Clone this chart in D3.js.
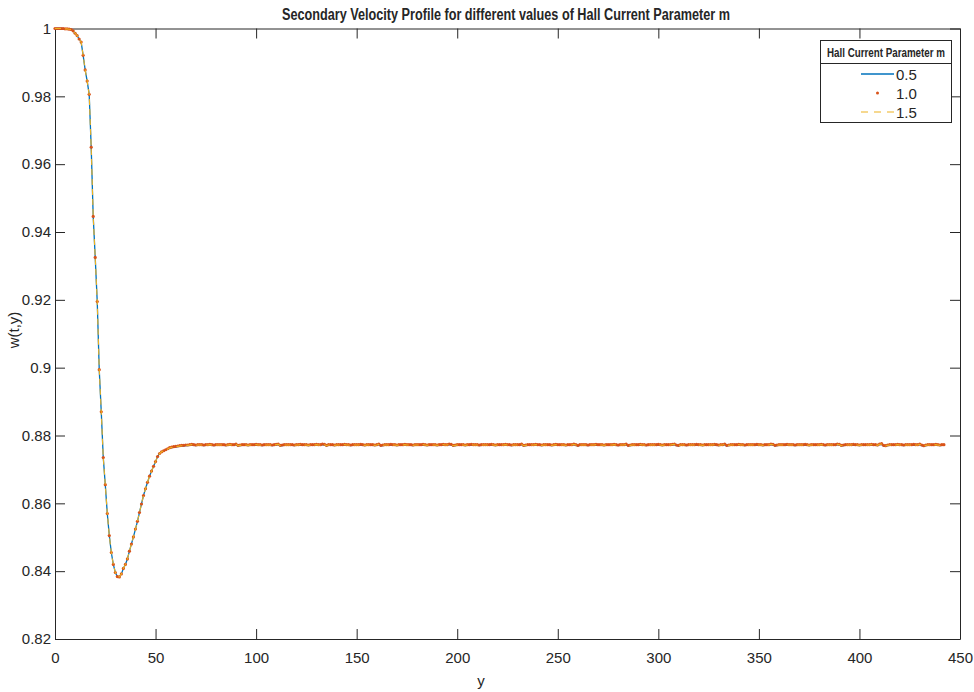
<!DOCTYPE html>
<html>
<head>
<meta charset="utf-8">
<script src="https://cdn.jsdelivr.net/npm/d3@7"></script>
<style>
html,body{margin:0;padding:0;background:#fff;}
svg text{font-family:"Liberation Sans Narrow","Arial Narrow","Liberation Sans",Arial,sans-serif;fill:#262626;}
</style>
</head>
<body>
<svg id="chart" width="974" height="692"></svg>
<script>
// ---- Data ----
const seriesNames = ["0.5", "1.0", "1.5"];
const xTicks = [0, 50, 100, 150, 200, 250, 300, 350, 400, 450];
const xTickLabels = ["0", "50", "100", "150", "200", "250", "300", "350", "400", "450"];
const yTicks = [0.82, 0.84, 0.86, 0.88, 0.9, 0.92, 0.94, 0.96, 0.98, 1];
const yTickLabels = ["0.82", "0.84", "0.86", "0.88", "0.9", "0.92", "0.94", "0.96", "0.98", "1"];

const w_m05 = [1.0000,1.0000,1.0000,1.0000,1.0000,0.9999,0.9999,0.9998,0.9997,0.9993,0.9986,0.9979,0.9969,0.9960,0.9921,0.9878,0.9845,0.9806,0.9650,0.9446,0.9325,0.9195,0.8994,0.8870,0.8735,0.8655,0.8570,0.8505,0.8455,0.8420,0.8396,0.8384,0.8383,0.8392,0.8408,0.8420,0.8436,0.8459,0.8480,0.8501,0.8524,0.8547,0.8573,0.8598,0.8623,0.8643,0.8662,0.8680,0.8695,0.8709,0.8723,0.8738,0.8747,0.8752,0.8755,0.8757,0.8760,0.8762,0.8764,0.8765,0.8766,0.8767,0.8768,0.8769,0.8769,0.8770,0.8770,0.8771,
.8772,.8771,.8770,.8771,.8771,.8771,.8770,.8771,.8771,.8772,.8771,.8770,.8771,.8771,.8771,.8771,.8771,.8770,.8771,.8772,.8771,.8771,.8773,.8769,.8770,
.8771,.8771,.8771,.8770,.8771,.8771,.8771,.8772,.8771,.8771,.8770,.8771,.8771,.8771,.8771,.8770,.8771,.8772,.8773,.8769,.8770,.8771,.8771,.8771,.8771,
.8771,.8770,.8771,.8771,.8772,.8771,.8771,.8771,.8770,.8771,.8771,.8771,.8772,.8771,.8771,.8773,.8772,.8769,.8771,.8771,.8771,.8770,.8771,.8771,.8771,
.8771,.8772,.8771,.8771,.8770,.8771,.8771,.8771,.8771,.8772,.8771,.8770,.8771,.8771,.8771,.8771,.8770,.8771,.8773,.8769,.8770,.8771,.8771,.8771,.8772,
.8771,.8771,.8770,.8771,.8771,.8771,.8772,.8771,.8771,.8771,.8770,.8771,.8771,.8771,.8771,.8772,.8771,.8770,.8771,.8771,.8771,.8771,.8770,.8771,.8771,
.8772,.8771,.8771,.8773,.8772,.8769,.8770,.8771,.8771,.8771,.8771,.8770,.8771,.8771,.8772,.8771,.8771,.8771,.8770,.8771,.8771,.8771,.8771,.8771,.8772,
.8771,.8770,.8771,.8771,.8771,.8771,.8772,.8771,.8771,.8770,.8771,.8771,.8771,.8771,.8773,.8769,.8770,.8771,.8771,.8771,.8771,.8772,.8771,.8771,.8770,
.8771,.8771,.8771,.8771,.8770,.8771,.8772,.8771,.8771,.8771,.8771,.8770,.8771,.8771,.8771,.8773,.8771,.8769,.8771,.8771,.8771,.8771,.8770,.8771,.8771,
.8771,.8772,.8771,.8771,.8771,.8770,.8771,.8771,.8771,.8771,.8772,.8771,.8770,.8771,.8771,.8771,.8773,.8769,.8770,.8771,.8771,.8771,.8771,.8772,.8771,
.8771,.8770,.8771,.8771,.8771,.8771,.8771,.8772,.8771,.8770,.8771,.8771,.8771,.8771,.8772,.8773,.8770,.8769,.8771,.8771,.8771,.8770,.8771,.8771,.8771,
.8771,.8772,.8771,.8771,.8770,.8771,.8771,.8771,.8771,.8771,.8772,.8771,.8770,.8771,.8771,.8773,.8769,.8770,.8771,.8771,.8771,.8771,.8772,.8771,.8771,
.8770,.8771,.8771,.8771,.8771,.8771,.8772,.8771,.8771,.8770,.8771,.8771,.8771,.8773,.8772,.8769,.8770,.8771,.8771,.8771,.8771,.8772,.8771,.8771,.8771,
.8770,.8771,.8771,.8771,.8771,.8772,.8771,.8770,.8771,.8771,.8771,.8771,.8771,.8772,.8771,.8770,.8771,.8771,.8771,.8771,.8771,.8773,.8772,.8769,.8770,
.8771,.8771,.8771,.8771,.8772,.8771,.8771,.8770,.8771,.8771,.8771,.8771,.8771,.8772,.8771,.8771,.8770,.8773,.8774,.8769,.8768,.8770,.8771,.8771,.8771,
.8771,.8772,.8771,.8771,.8770,.8771,.8771,.8771,.8771,.8772,.8771,.8771,.8773,.8770,.8768,.8770,.8771,.8771,.8771,.8771,.8772,.8771,.8770,.8771,.8771];

const w_m10 = [1.0000,1.0000,1.0000,1.0000,1.0000,0.9999,0.9999,0.9998,0.9997,0.9993,0.9986,0.9979,0.9969,0.9960,0.9921,0.9878,0.9845,0.9806,0.9650,0.9446,0.9325,0.9195,0.8994,0.8870,0.8735,0.8655,0.8570,0.8505,0.8455,0.8420,0.8396,0.8384,0.8383,0.8392,0.8408,0.8420,0.8436,0.8459,0.8480,0.8501,0.8524,0.8547,0.8573,0.8598,0.8623,0.8643,0.8662,0.8680,0.8695,0.8709,0.8723,0.8738,0.8747,0.8752,0.8755,0.8758,0.8761,0.8764,0.8766,0.8767,0.8768,0.8769,0.8770,0.8771,0.8771,0.8772,0.8772,0.8773,
.8774,.8773,.8772,.8773,.8773,.8773,.8772,.8773,.8773,.8774,.8773,.8772,.8773,.8773,.8773,.8773,.8773,.8772,.8773,.8774,.8773,.8773,.8775,.8771,.8772,
.8773,.8773,.8773,.8772,.8773,.8773,.8773,.8774,.8773,.8773,.8772,.8773,.8773,.8773,.8773,.8772,.8773,.8774,.8775,.8771,.8772,.8773,.8773,.8773,.8773,
.8773,.8772,.8773,.8773,.8774,.8773,.8773,.8773,.8772,.8773,.8773,.8773,.8774,.8773,.8773,.8775,.8774,.8771,.8773,.8773,.8773,.8772,.8773,.8773,.8773,
.8773,.8774,.8773,.8773,.8772,.8773,.8773,.8773,.8773,.8774,.8773,.8772,.8773,.8773,.8773,.8773,.8772,.8773,.8775,.8771,.8772,.8773,.8773,.8773,.8774,
.8773,.8773,.8772,.8773,.8773,.8773,.8774,.8773,.8773,.8773,.8772,.8773,.8773,.8773,.8773,.8774,.8773,.8772,.8773,.8773,.8773,.8773,.8772,.8773,.8773,
.8774,.8773,.8773,.8775,.8774,.8771,.8772,.8773,.8773,.8773,.8773,.8772,.8773,.8773,.8774,.8773,.8773,.8773,.8772,.8773,.8773,.8773,.8773,.8773,.8774,
.8773,.8772,.8773,.8773,.8773,.8773,.8774,.8773,.8773,.8772,.8773,.8773,.8773,.8773,.8775,.8771,.8772,.8773,.8773,.8773,.8773,.8774,.8773,.8773,.8772,
.8773,.8773,.8773,.8773,.8772,.8773,.8774,.8773,.8773,.8773,.8773,.8772,.8773,.8773,.8773,.8775,.8773,.8771,.8773,.8773,.8773,.8773,.8772,.8773,.8773,
.8773,.8774,.8773,.8773,.8773,.8772,.8773,.8773,.8773,.8773,.8774,.8773,.8772,.8773,.8773,.8773,.8775,.8771,.8772,.8773,.8773,.8773,.8773,.8774,.8773,
.8773,.8772,.8773,.8773,.8773,.8773,.8773,.8774,.8773,.8772,.8773,.8773,.8773,.8773,.8774,.8775,.8772,.8771,.8773,.8773,.8773,.8772,.8773,.8773,.8773,
.8773,.8774,.8773,.8773,.8772,.8773,.8773,.8773,.8773,.8773,.8774,.8773,.8772,.8773,.8773,.8775,.8771,.8772,.8773,.8773,.8773,.8773,.8774,.8773,.8773,
.8772,.8773,.8773,.8773,.8773,.8773,.8774,.8773,.8773,.8772,.8773,.8773,.8773,.8775,.8774,.8771,.8772,.8773,.8773,.8773,.8773,.8774,.8773,.8773,.8773,
.8772,.8773,.8773,.8773,.8773,.8774,.8773,.8772,.8773,.8773,.8773,.8773,.8773,.8774,.8773,.8772,.8773,.8773,.8773,.8773,.8773,.8775,.8774,.8771,.8772,
.8773,.8773,.8773,.8773,.8774,.8773,.8773,.8772,.8773,.8773,.8773,.8773,.8773,.8774,.8773,.8773,.8772,.8775,.8776,.8771,.8770,.8772,.8773,.8773,.8773,
.8773,.8774,.8773,.8773,.8772,.8773,.8773,.8773,.8773,.8774,.8773,.8773,.8775,.8772,.8770,.8772,.8773,.8773,.8773,.8773,.8774,.8773,.8772,.8773,.8773];

const w_m15 = [1.0000,1.0000,1.0000,1.0000,1.0000,0.9999,0.9999,0.9998,0.9997,0.9993,0.9986,0.9979,0.9969,0.9960,0.9921,0.9878,0.9845,0.9806,0.9650,0.9446,0.9325,0.9195,0.8994,0.8870,0.8735,0.8655,0.8570,0.8505,0.8455,0.8420,0.8396,0.8384,0.8383,0.8392,0.8408,0.8420,0.8436,0.8459,0.8480,0.8501,0.8524,0.8547,0.8573,0.8598,0.8623,0.8643,0.8662,0.8680,0.8695,0.8709,0.8723,0.8738,0.8747,0.8752,0.8755,0.8757,0.8760,0.8763,0.8765,0.8766,0.8767,0.8768,0.8769,0.8770,0.8770,0.8771,0.8771,0.8772,
.8773,.8772,.8771,.8772,.8772,.8772,.8771,.8772,.8772,.8773,.8772,.8771,.8772,.8772,.8772,.8772,.8772,.8771,.8772,.8773,.8772,.8772,.8774,.8770,.8771,
.8772,.8772,.8772,.8771,.8772,.8772,.8772,.8773,.8772,.8772,.8771,.8772,.8772,.8772,.8772,.8771,.8772,.8773,.8774,.8770,.8771,.8772,.8772,.8772,.8772,
.8772,.8771,.8772,.8772,.8773,.8772,.8772,.8772,.8771,.8772,.8772,.8772,.8773,.8772,.8772,.8774,.8773,.8770,.8772,.8772,.8772,.8771,.8772,.8772,.8772,
.8772,.8773,.8772,.8772,.8771,.8772,.8772,.8772,.8772,.8773,.8772,.8771,.8772,.8772,.8772,.8772,.8771,.8772,.8774,.8770,.8771,.8772,.8772,.8772,.8773,
.8772,.8772,.8771,.8772,.8772,.8772,.8773,.8772,.8772,.8772,.8771,.8772,.8772,.8772,.8772,.8773,.8772,.8771,.8772,.8772,.8772,.8772,.8771,.8772,.8772,
.8773,.8772,.8772,.8774,.8773,.8770,.8771,.8772,.8772,.8772,.8772,.8771,.8772,.8772,.8773,.8772,.8772,.8772,.8771,.8772,.8772,.8772,.8772,.8772,.8773,
.8772,.8771,.8772,.8772,.8772,.8772,.8773,.8772,.8772,.8771,.8772,.8772,.8772,.8772,.8774,.8770,.8771,.8772,.8772,.8772,.8772,.8773,.8772,.8772,.8771,
.8772,.8772,.8772,.8772,.8771,.8772,.8773,.8772,.8772,.8772,.8772,.8771,.8772,.8772,.8772,.8774,.8772,.8770,.8772,.8772,.8772,.8772,.8771,.8772,.8772,
.8772,.8773,.8772,.8772,.8772,.8771,.8772,.8772,.8772,.8772,.8773,.8772,.8771,.8772,.8772,.8772,.8774,.8770,.8771,.8772,.8772,.8772,.8772,.8773,.8772,
.8772,.8771,.8772,.8772,.8772,.8772,.8772,.8773,.8772,.8771,.8772,.8772,.8772,.8772,.8773,.8774,.8771,.8770,.8772,.8772,.8772,.8771,.8772,.8772,.8772,
.8772,.8773,.8772,.8772,.8771,.8772,.8772,.8772,.8772,.8772,.8773,.8772,.8771,.8772,.8772,.8774,.8770,.8771,.8772,.8772,.8772,.8772,.8773,.8772,.8772,
.8771,.8772,.8772,.8772,.8772,.8772,.8773,.8772,.8772,.8771,.8772,.8772,.8772,.8774,.8773,.8770,.8771,.8772,.8772,.8772,.8772,.8773,.8772,.8772,.8772,
.8771,.8772,.8772,.8772,.8772,.8773,.8772,.8771,.8772,.8772,.8772,.8772,.8772,.8773,.8772,.8771,.8772,.8772,.8772,.8772,.8772,.8774,.8773,.8770,.8771,
.8772,.8772,.8772,.8772,.8773,.8772,.8772,.8771,.8772,.8772,.8772,.8772,.8772,.8773,.8772,.8772,.8771,.8774,.8775,.8770,.8769,.8771,.8772,.8772,.8772,
.8772,.8773,.8772,.8772,.8771,.8772,.8772,.8772,.8772,.8773,.8772,.8772,.8774,.8771,.8769,.8771,.8772,.8772,.8772,.8772,.8773,.8772,.8771,.8772,.8772];

const yCoord = d3.range(w_m05.length); // grid positions 0,1,2,...

// ---- Layout ----
const svg = d3.select("#chart");
const L = 55, R = 960, T = 28.5, B = 639;
const x = d3.scaleLinear().domain([0, 450]).range([L, R]);
const y = d3.scaleLinear().domain([0.82, 1]).range([B, T]);
const axisColor = "#262626";
const fontFam = '"Liberation Sans Narrow","Arial Narrow","Liberation Sans",Arial,sans-serif';

svg.append("rect").attr("width", 974).attr("height", 692).attr("fill", "#fff");

// Axes
const gx = svg.append("g").attr("transform", `translate(0,${B})`)
  .call(d3.axisBottom(x).tickValues(xTicks).tickFormat((d, i) => xTickLabels[i]).tickSizeInner(-10).tickSizeOuter(0).tickPadding(13));
const gxt = svg.append("g").attr("transform", `translate(0,${T})`)
  .call(d3.axisTop(x).tickValues(xTicks).tickFormat("").tickSizeInner(-10).tickSizeOuter(0));
const gy = svg.append("g").attr("transform", `translate(${L},0)`)
  .call(d3.axisLeft(y).tickValues(yTicks).tickFormat((d, i) => yTickLabels[i]).tickSizeInner(-10).tickSizeOuter(0).tickPadding(4));
const gyr = svg.append("g").attr("transform", `translate(${R},0)`)
  .call(d3.axisRight(y).tickValues(yTicks).tickFormat("").tickSizeInner(-10).tickSizeOuter(0));
[gx, gxt, gy, gyr].forEach(g => {
  g.selectAll("path.domain").attr("stroke", axisColor);
  g.selectAll("line").attr("stroke", axisColor);
  g.selectAll("text").attr("font-size", 15).attr("fill", axisColor).style("font-family", fontFam);
});

// Series
const pts05 = yCoord.map((c, i) => [c, w_m05[i]]);
const pts10 = yCoord.map((c, i) => [c, w_m10[i]]);
const pts15 = yCoord.map((c, i) => [c, w_m15[i]]);
const line = d3.line().x(d => x(d[0])).y(d => y(d[1]));

svg.append("path").datum(pts05).attr("d", line)
  .attr("fill", "none").attr("stroke", "#0072BD").attr("stroke-width", 1.3);

svg.append("g").selectAll("circle").data(pts10).join("circle")
  .attr("cx", d => x(d[0])).attr("cy", d => y(d[1])).attr("r", 1.6)
  .attr("fill", "#D95319");

svg.append("path").datum(pts15).attr("d", line)
  .attr("fill", "none").attr("stroke", "#EDB120").attr("stroke-width", 1.1)
  .attr("stroke-dasharray", "6,4");

// Title & labels
svg.append("text").attr("x", 506).attr("y", 20).attr("text-anchor", "middle")
  .attr("font-size", 16).attr("font-weight", "bold")
  .attr("textLength", 448).attr("lengthAdjust", "spacingAndGlyphs")
  .text("Secondary Velocity Profile for different values of Hall Current Parameter m");

svg.append("text").attr("x", 481).attr("y", 686).attr("text-anchor", "middle")
  .attr("font-size", 15).text("y");

svg.append("text").attr("transform", "translate(19,330) rotate(-90)")
  .attr("text-anchor", "middle").attr("font-size", 15).text("w(t,y)");

// Legend
const lg = svg.append("g");
lg.append("rect").attr("x", 820.5).attr("y", 40.5).attr("width", 131).attr("height", 82)
  .attr("fill", "#fff").attr("stroke", axisColor).attr("stroke-width", 1);
lg.append("line").attr("x1", 820.5).attr("x2", 951.5).attr("y1", 63.5).attr("y2", 63.5)
  .attr("stroke", axisColor);
lg.append("text").attr("x", 886).attr("y", 57).attr("text-anchor", "middle")
  .attr("font-size", 12).attr("font-weight", "bold")
  .attr("textLength", 118).attr("lengthAdjust", "spacingAndGlyphs")
  .text("Hall Current Parameter m");
const entryY = [74, 93, 112];
lg.append("line").attr("x1", 861).attr("x2", 894).attr("y1", entryY[0]).attr("y2", entryY[0])
  .attr("stroke", "#0072BD").attr("stroke-width", 1.3);
lg.append("circle").attr("cx", 877.5).attr("cy", entryY[1]).attr("r", 1.5).attr("fill", "#D95319");
lg.append("line").attr("x1", 861).attr("x2", 894).attr("y1", entryY[2]).attr("y2", entryY[2])
  .attr("stroke", "#EDB120").attr("stroke-width", 1.1).attr("stroke-dasharray", "7,6");
seriesNames.forEach((n, i) => {
  lg.append("text").attr("x", 896).attr("y", entryY[i] + 5.5).attr("font-size", 15).text(n);
});
</script>
</body>
</html>
